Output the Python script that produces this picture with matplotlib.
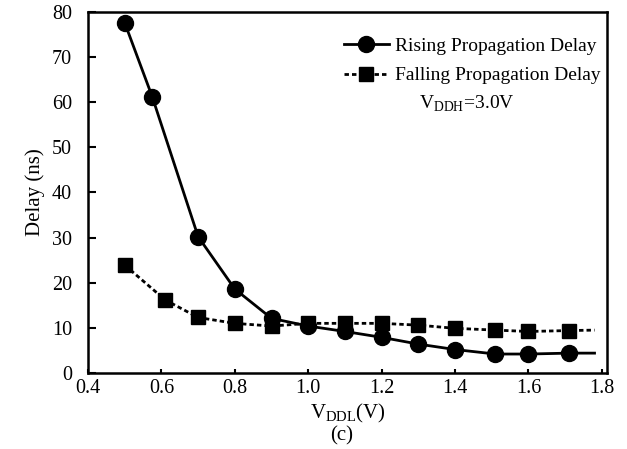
import matplotlib
matplotlib.use("Agg")
import matplotlib.pyplot as plt
from matplotlib.lines import Line2D

plt.rcParams['font.family'] = ['Liberation Serif', 'DejaVu Serif']
plt.rcParams['mathtext.fontset'] = 'custom'
plt.rcParams['mathtext.rm'] = 'Liberation Serif'

rise_x = [0.5, 0.575, 0.7, 0.8, 0.9, 1.0, 1.1, 1.2, 1.3, 1.4, 1.51, 1.6, 1.71]
rise_y = [77.6, 61.2, 30.2, 18.6, 12.1, 10.4, 9.2, 7.9, 6.4, 5.2, 4.2, 4.2, 4.4]
rise_end_x = 1.78
rise_end_y = 4.4

fall_x = [0.5, 0.61, 0.7, 0.8, 0.9, 1.0, 1.1, 1.2, 1.3, 1.4, 1.51, 1.6, 1.71]
fall_y = [23.9, 16.2, 12.3, 11.0, 10.4, 11.0, 11.0, 11.0, 10.6, 9.9, 9.5, 9.2, 9.4]
fall_end_x = 1.78
fall_end_y = 9.5

xticks = [0.4, 0.6, 0.8, 1.0, 1.2, 1.4, 1.6, 1.8]
yticks = [0, 10, 20, 30, 40, 50, 60, 70, 80]

LW = 2.0
DASH = (0, (1.6, 1.1))

fig = plt.figure(figsize=(6.27, 4.49), dpi=100)
ax = fig.add_axes([0.1404, 0.1693, 0.8277, 0.804])

ax.plot(rise_x + [rise_end_x], rise_y + [rise_end_y], color='black', lw=LW,
        linestyle='-', zorder=2)
ax.plot(fall_x + [fall_end_x], fall_y + [fall_end_y], color='black', lw=LW,
        linestyle=DASH, zorder=2)
ax.plot(rise_x, rise_y, 'o', color='black', ms=11.5, zorder=3)
ax.plot(fall_x, fall_y, 's', color='black', ms=9.5, zorder=3)

h1 = Line2D([], [], color='black', lw=LW, marker='o', ms=11.5,
            label='Rising Propagation Delay')
h2 = Line2D([], [], color='black', lw=LW, linestyle=DASH,
            marker='s', ms=9.5, label='Falling Propagation Delay')
leg = ax.legend(handles=[h1, h2], loc='upper right', frameon=False,
                fontsize=14, numpoints=1, handlelength=2.3,
                bbox_to_anchor=(1.0, 0.948), handletextpad=0.3,
                labelspacing=0.6, borderaxespad=0.35, borderpad=0.0)

ax.text(0.638, 0.745, r'V$_{\rm DDH}$=3.0V', transform=ax.transAxes,
        fontsize=14, ha='left', va='center')

ax.set_xlim(0.4, 1.814)
ax.set_ylim(0, 80)
ax.set_xticks(xticks)
ax.set_xticklabels([f'{v:.1f}' for v in xticks])
ax.set_yticks(yticks)
ax.tick_params(axis='y', direction='in', length=6, width=1.5, labelsize=14.5,
               pad=11.5)
ax.tick_params(axis='x', direction='in', length=3, width=1.5, labelsize=14.5,
               pad=4)
for s in ax.spines.values():
    s.set_linewidth(1.8)

ax.set_ylabel('Delay (ns)', fontsize=15, labelpad=5)
ax.set_xlabel(r'V$_{\rm DDL}$(V)', fontsize=15, labelpad=3)
fig.text(0.545, 0.03, '(c)', ha='center', va='center', fontsize=15)

fig.savefig('out.png', dpi=100)
